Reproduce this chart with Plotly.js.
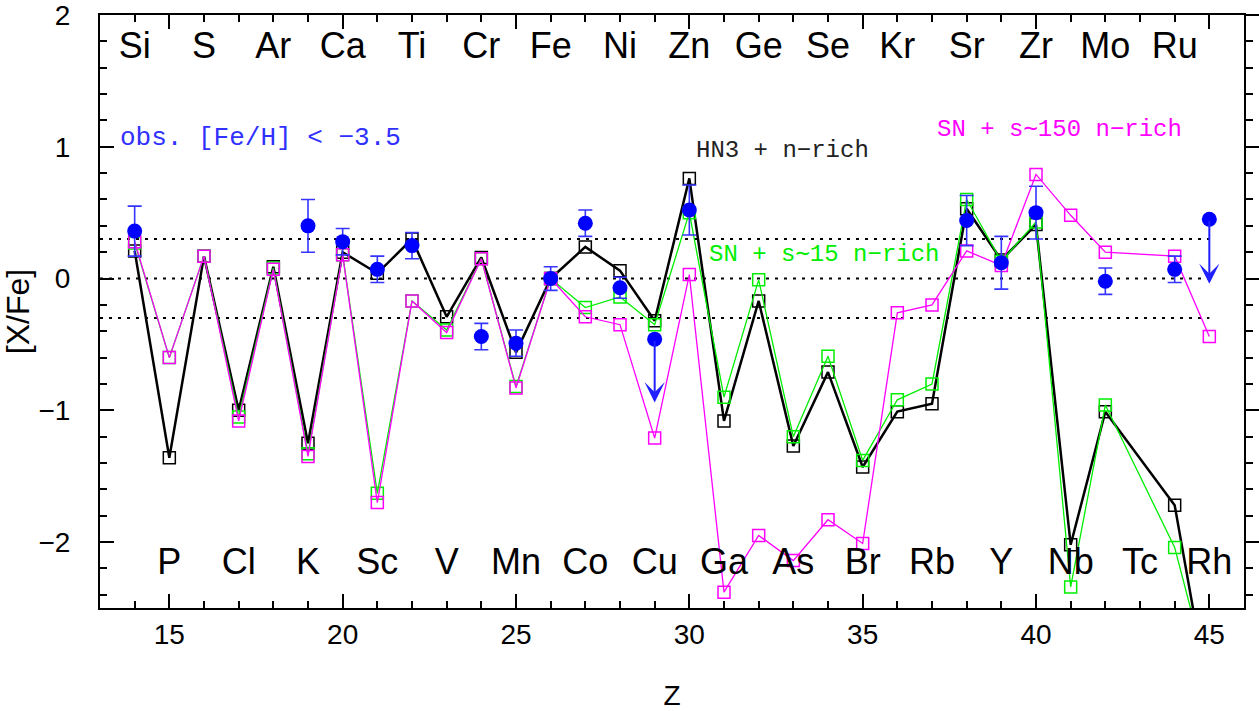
<!DOCTYPE html>
<html>
<head>
<meta charset="utf-8">
<script src="https://cdn.plot.ly/plotly-3.0.1.min.js"></script>
<style>html,body{margin:0;padding:0;background:#fff;}#chart{width:1259px;height:711px;}</style>
</head>
<body>
<div id="chart"></div>
<script>
// ---- data ----
const Z = [14,15,16,17,18,19,20,21,22,23,24,25,26,27,28,29,30,31,32,33,34,35,36,37,38,39,40,41,42,43,44,45];
const hn3 = [0.21,-1.36,0.17,-1.00,0.09,-1.25,0.20,0.04,0.30,-0.29,0.16,-0.56,0.00,0.24,0.06,-0.32,0.76,-1.08,-0.17,-1.27,-0.71,-1.43,-1.01,-0.95,0.53,0.14,0.41,-2.02,-1.01,null,-1.72,-3.20];
const sn15 = [0.27,-0.60,0.17,-1.05,0.08,-1.33,0.18,-1.63,-0.17,-0.39,0.15,-0.82,0.00,-0.22,-0.14,-0.35,0.50,-0.90,-0.01,-1.20,-0.59,-1.38,-0.92,-0.80,0.60,0.13,0.43,-2.34,-0.96,null,-2.04,-3.05];
const sn150 = [0.28,-0.60,0.17,-1.08,0.07,-1.35,0.18,-1.70,-0.17,-0.41,0.15,-0.83,0.00,-0.29,-0.35,-1.21,0.03,-2.38,-1.95,-2.14,-1.83,-2.01,-0.26,-0.20,0.21,0.10,0.79,0.48,0.20,null,0.17,-0.44];
const obsZ = [14,19,20,21,22,24,25,26,27,28,30,38,39,40,42,44];
const obsVal = [0.36,0.40,0.28,0.07,0.25,-0.44,-0.49,0.00,0.42,-0.07,0.52,0.44,0.12,0.50,-0.02,0.07];
const obsErr = [0.19,0.20,0.10,0.10,0.10,0.10,0.10,0.09,0.10,0.08,0.19,0.19,0.20,0.20,0.10,0.10];
const limZ = [29,45];
const limVal = [-0.46,0.45];
const limTip = [-0.94,-0.04];
const refLevels = [0.3,0,-0.3];
const topZ = [14,16,18,20,22,24,26,28,30,32,34,36,38,40,42,44];
const topEl = ['Si','S','Ar','Ca','Ti','Cr','Fe','Ni','Zn','Ge','Se','Kr','Sr','Zr','Mo','Ru'];
const botZ = [15,17,19,21,23,25,27,29,31,33,35,37,39,41,43,45];
const botEl = ['P','Cl','K','Sc','V','Mn','Co','Cu','Ga','As','Br','Rb','Y','Nb','Tc','Rh'];

// ---- styles ----
const SANS = 'Liberation Sans, Arial, sans-serif';
const MONO = 'Liberation Mono, DejaVu Sans Mono, monospace';
const BLUE = '#0000ff';
const GREEN = '#00ee00';
const MAG = '#ff00ff';

function model(y, color, lw, name) {
  return {x: Z, y: y, type: 'scatter', mode: 'lines+markers', name: name, connectgaps: true,
    line: {color: color, width: lw},
    marker: {symbol: 'square-open', size: 12, color: color, line: {color: color, width: 1.5}},
    hoverinfo: 'x+y'};
}

const traces = [
  model(hn3, '#000000', 2.5, 'HN3 + n-rich'),
  model(sn15, GREEN, 1.3, 'SN + s~15 n-rich'),
  model(sn150, MAG, 1.3, 'SN + s~150 n-rich'),
  {x: obsZ, y: obsVal, type: 'scatter', mode: 'markers', name: 'obs',
    marker: {symbol: 'circle', size: 15, color: BLUE},
    error_y: {type: 'data', array: obsErr, visible: true, color: '#3535ff', thickness: 1.6, width: 7}},
  {x: limZ, y: limVal, type: 'scatter', mode: 'markers', name: 'upper limits',
    marker: {symbol: 'circle', size: 15, color: BLUE}},
  {x: topZ, y: topZ.map(() => 1.74), text: topEl, type: 'scatter', mode: 'text',
    textfont: {family: SANS, size: 36, color: '#000'}, textposition: 'middle center', hoverinfo: 'skip'},
  {x: botZ, y: botZ.map(() => -2.17), text: botEl, type: 'scatter', mode: 'text',
    textfont: {family: SANS, size: 36, color: '#000'}, textposition: 'middle center', hoverinfo: 'skip'}
];

const shapes = refLevels.map(v => ({type: 'line', xref: 'x', yref: 'y', x0: 13, x1: 45, y0: v, y1: v,
  line: {color: '#000', width: 2, dash: '3px,6px'}, layer: 'below'}));

const annotations = limZ.map((z, i) => ({x: z, y: limTip[i], ax: z, ay: limVal[i], axref: 'x', ayref: 'y',
  xref: 'x', yref: 'y', text: '', showarrow: true, arrowhead: 3, arrowsize: 1.7, arrowwidth: 2,
  arrowcolor: '#2020ff', standoff: 0, startstandoff: 0}));

annotations.push(
  {x: 13.52, y: 1.07, xref: 'x', yref: 'y', xanchor: 'left', yanchor: 'middle', showarrow: false,
    text: 'obs. [Fe/H] < \u22123.5', font: {family: MONO, size: 26, color: '#3030ff'}},
  {x: 32.69, y: 0.97, xref: 'x', yref: 'y', xanchor: 'center', yanchor: 'middle', showarrow: false,
    text: 'HN3 + n\u2212rich', font: {family: MONO, size: 24, color: '#222'}},
  {x: 40.68, y: 1.13, xref: 'x', yref: 'y', xanchor: 'center', yanchor: 'middle', showarrow: false,
    text: 'SN + s\u223c150 n\u2212rich', font: {family: MONO, size: 24, color: MAG}},
  {x: 33.88, y: 0.18, xref: 'x', yref: 'y', xanchor: 'center', yanchor: 'middle', showarrow: false,
    text: 'SN + s\u223c15 n\u2212rich', font: {family: MONO, size: 24, color: GREEN}}
);

const layout = {
  width: 1259, height: 711,
  margin: {l: 100, r: 15, t: 15, b: 103},
  paper_bgcolor: '#fff', plot_bgcolor: '#fff',
  showlegend: false,
  font: {family: SANS, size: 28, color: '#000'},
  xaxis: {range: [13, 46], tick0: 0, dtick: 5, ticks: 'inside', ticklen: 14, tickwidth: 2, tickcolor: '#000',
    showline: true, linewidth: 2, linecolor: '#000', mirror: 'ticks', showgrid: false, zeroline: false,
    minor: {dtick: 1, ticks: 'inside', ticklen: 7, tickwidth: 2, tickcolor: '#000', showgrid: false},
    tickfont: {family: SANS, size: 28}, ticklabelstandoff: 0,
    title: {text: 'Z', font: {family: SANS, size: 28}, standoff: 44}},
  yaxis: {range: [-2.5, 2], tick0: 0, dtick: 1, ticks: 'inside', ticklen: 14, tickwidth: 2, tickcolor: '#000',
    showline: true, linewidth: 2, linecolor: '#000', mirror: false, showgrid: false, zeroline: false,
    minor: {dtick: 0.2, ticks: 'inside', ticklen: 7, tickwidth: 2, tickcolor: '#000', showgrid: false},
    tickfont: {family: SANS, size: 28}, ticklabelstandoff: 22, ticklabeloverflow: 'allow',
    title: {text: '[X/Fe]', font: {family: SANS, size: 32}, standoff: 0}},
  yaxis2: {overlaying: 'y', side: 'right', range: [-2.5, 2], tick0: 0, dtick: 1, ticks: 'outside', ticklen: 14,
    tickwidth: 2, tickcolor: '#000', showline: true, linewidth: 2, linecolor: '#000', showticklabels: false,
    showgrid: false, zeroline: false,
    minor: {dtick: 0.2, ticks: 'outside', ticklen: 7, tickwidth: 2, tickcolor: '#000', showgrid: false}},
  shapes: shapes,
  annotations: annotations
};

// invisible helper trace so the right-hand axis (yaxis2) is drawn
traces.push({x: [13], y: [0], yaxis: 'y2', type: 'scatter', mode: 'markers', marker: {opacity: 0}, hoverinfo: 'skip', showlegend: false});

Plotly.newPlot('chart', traces, layout, {staticPlot: true});
</script>
</body>
</html>
